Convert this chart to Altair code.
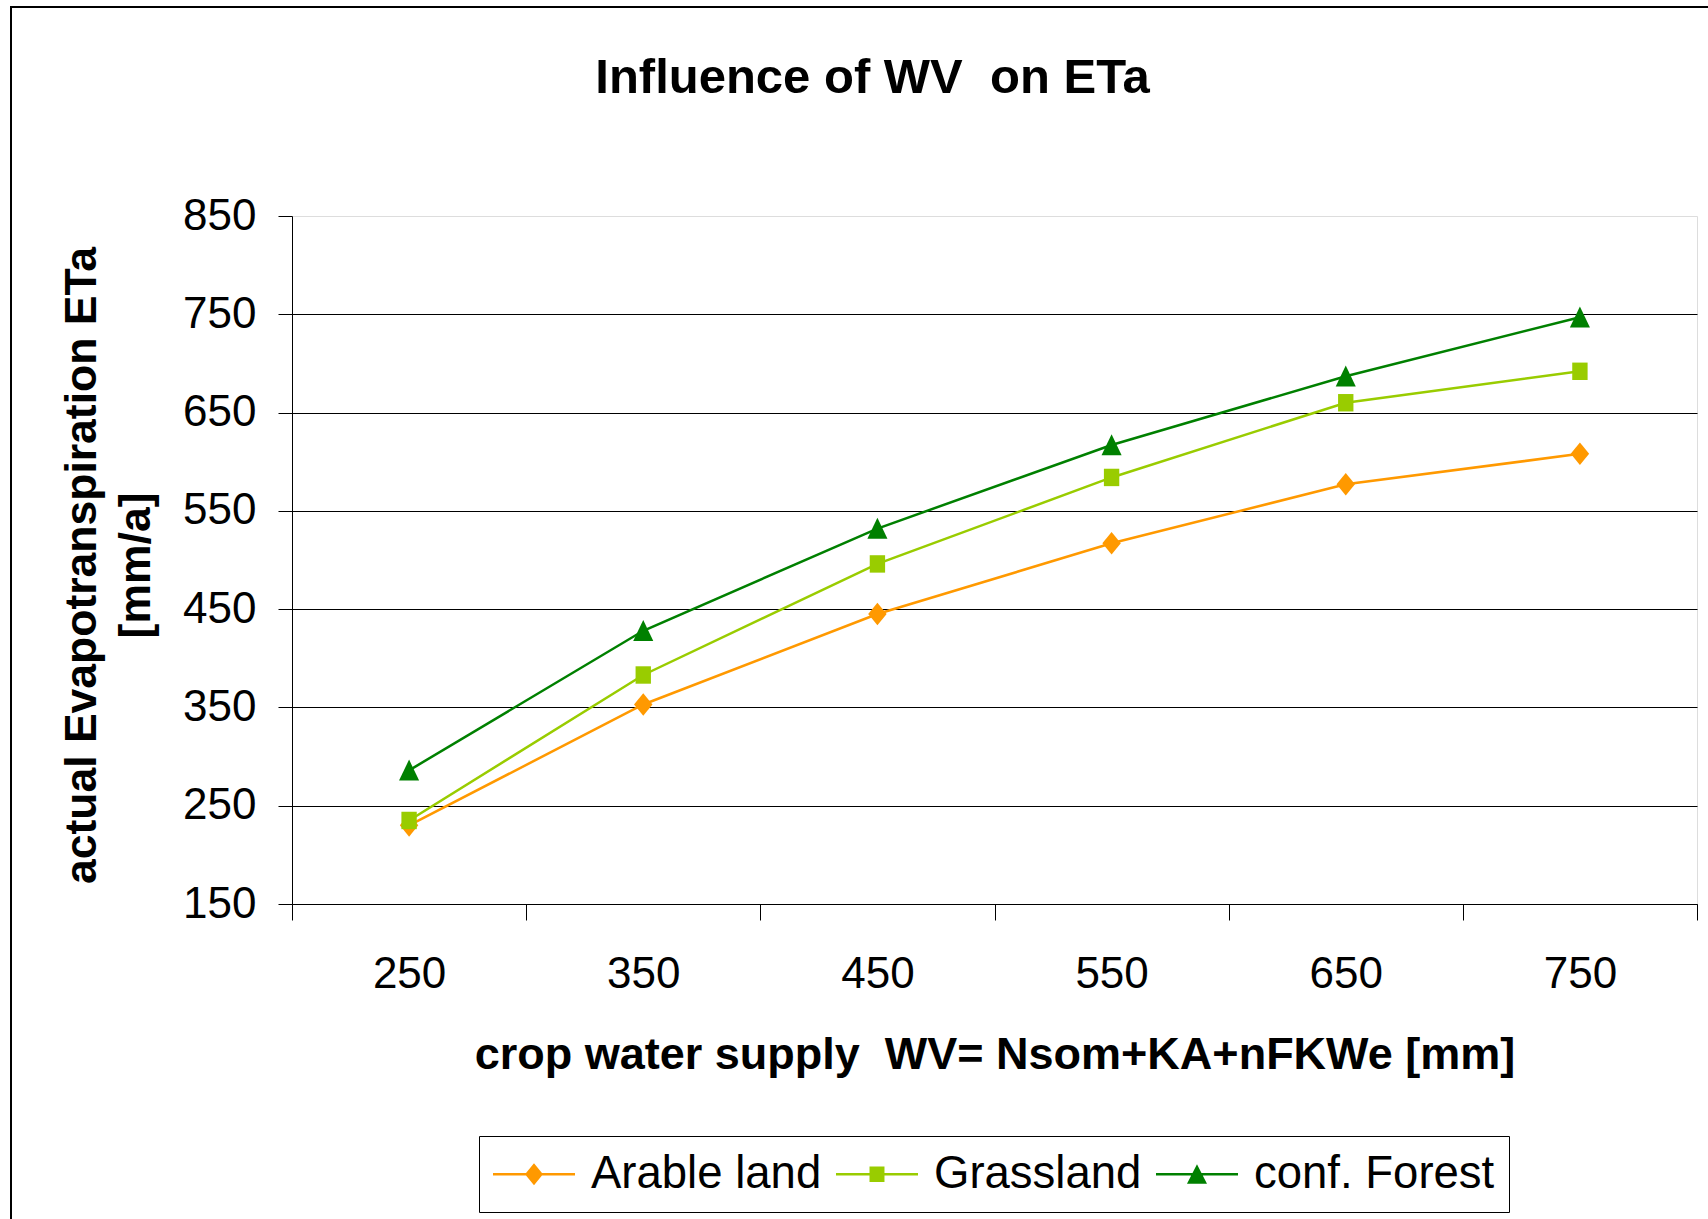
import altair as alt
import pandas as pd

# ---- data ----
supply = ["250", "350", "450", "550", "650", "750"]
series_names = ["Arable land", "Grassland", "conf. Forest"]
arable = [230, 353, 445, 517, 577, 608]
grassland = [235, 383, 496, 584, 660, 692]
forest = [286, 428, 532, 617, 687, 747]
colors = ["#FF9900", "#99CC00", "#008000"]
y_ticks = [150, 250, 350, 450, 550, 650, 750, 850]

rows = []
for name, vals in zip(series_names, [arable, grassland, forest]):
    for s, v in zip(supply, vals):
        rows.append({"supply": s, "eta": v, "series": name})
df = pd.DataFrame(rows)

FONT = "Liberation Sans"
NBSP = "\u00a0"

# marker shapes (chart) and legend shapes (line drawn as thin filled bar + marker)
marker_paths = [
    "M0,-1.1L0.9,0L0,1.1L-0.9,0Z",
    "M-0.75,-0.85L0.75,-0.85L0.75,0.85L-0.75,0.85Z",
    "M0,-1.05L0.98,1.0L-0.98,1.0Z",
]
BAR = "M-1,-0.052L2.417,-0.052L2.417,0.052L-1,0.052Z"
legend_paths = [
    BAR + "M0.708,-0.458L1.083,0L0.708,0.458L0.333,0Z",
    BAR + "M0.396,-0.32L1.02,-0.32L1.02,0.32L0.396,0.32Z",
    BAR + "M0.708,-0.42L1.125,0.4L0.291,0.4Z",
]

x_enc = alt.X(
    "supply:O",
    sort=supply,
    scale=alt.Scale(type="band", paddingInner=0, paddingOuter=0),
    axis=alt.Axis(
        title="crop water supply" + NBSP + " WV= Nsom+KA+nFKWe [mm]",
        titleFont=FONT, titleFontSize=45, titleFontWeight="bold", titleColor="black",
        titleBaseline="middle", titleY=150,
        labelFont=FONT, labelFontSize=44, labelColor="black", labelAngle=0,
        labelBaseline="middle", labelPadding=54,
        tickBand="extent", tickSize=16, tickColor="black", tickWidth=1,
        domainColor="black", domainWidth=1, grid=False,
    ),
)
y_enc = alt.Y(
    "eta:Q",
    scale=alt.Scale(domain=[150, 850], nice=False, zero=False),
    axis=alt.Axis(
        title=["actual Evapotranspiration ETa", "[mm/a]"],
        titleFont=FONT, titleFontSize=44.5, titleFontWeight="bold", titleColor="black",
        titleAngle=-90, titleBaseline="middle", titleAlign="center",
        titleX=-210, titleY=349, titleLineHeight=54,
        values=y_ticks,
        labelFont=FONT, labelFontSize=44, labelColor="black", labelPadding=22,
        tickSize=14, tickColor="black", tickWidth=1,
        domainColor="black", domainWidth=1,
        grid=True, gridWidth=1,
        gridColor={"condition": {"test": "datum.value >= 850", "value": "transparent"}, "value": "black"},
    ),
)

series_layers = []
for name, col, path in zip(series_names, colors, marker_paths):
    base = alt.Chart(df).transform_filter(alt.datum.series == name)
    series_layers.append(base.mark_line(strokeWidth=2.5, color=col).encode(x=x_enc, y=y_enc))
    series_layers.append(
        base.mark_point(filled=True, opacity=1, size=420, shape=path, color=col).encode(x=x_enc, y=y_enc)
    )

leg = alt.Legend(
    title=None, orient="none", legendX=187, legendY=920,
    direction="horizontal", columns=3,
    strokeColor="black", padding=14,
    labelFont=FONT, labelFontSize=45.5, labelColor="black", labelLimit=400,
    labelOffset=50, columnPadding=14,
    symbolSize=2304, symbolOpacity=1, symbolStrokeWidth=0,
)

# empty layer that only carries the legend (line + marker symbols)
legend_layer = alt.Chart(df).transform_filter("false").mark_point(filled=True).encode(
    x=x_enc, y=y_enc,
    color=alt.Color("series:N", scale=alt.Scale(domain=series_names, range=colors), legend=leg),
    shape=alt.Shape("series:N", scale=alt.Scale(domain=series_names, range=legend_paths), legend=leg),
)

frame = alt.Chart(alt.Data(values=[{}])).mark_rect(
    fill="transparent", stroke="black", strokeWidth=2
).encode(
    x=alt.value(-281), x2=alt.value(1440),
    y=alt.value(-209), y2=alt.value(1040),
)

chart = alt.layer(frame, *series_layers, legend_layer).properties(
    width=1405,
    height=688,
    padding={"left": 292, "top": 216, "right": 11, "bottom": 315},
    autosize=alt.AutoSizeParams(type="none"),
    title=alt.TitleParams(
        "Influence of WV" + NBSP + " on ETa",
        font=FONT, fontSize=49, fontWeight="bold", color="black",
        anchor="middle", frame="group", dx=-122, dy=136, baseline="alphabetic", offset=0,
    ),
).configure_view(stroke=None).configure(background="white")

chart.save("out.html", embed_options={"renderer": "svg", "actions": False})
